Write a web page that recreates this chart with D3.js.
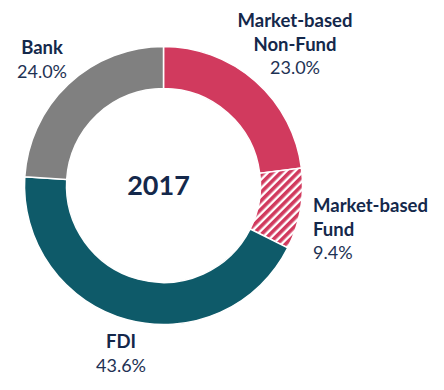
<!DOCTYPE html>
<html><head><meta charset="utf-8">
<script src="https://cdn.jsdelivr.net/npm/d3@7"></script>
<style>html,body{margin:0;padding:0;background:#fff;}svg{display:block;}</style>
</head><body>
<svg id="chart" width="444" height="390"></svg>
<script>
const categories = ["Market-based Non-Fund", "Market-based Fund", "FDI", "Bank"];
const values = [23.0, 9.4, 43.6, 24.0];
const valueLabels = ["23.0%", "9.4%", "43.6%", "24.0%"];
const nameLines = [["Market-based", "Non-Fund"], ["Market-based", "Fund"], ["FDI"], ["Bank"]];
const title = "2017";

const svg = d3.select("#chart");
const cx = 163.5, cy = 185.5, rOuter = 139, rInner = 97;
const defs = svg.append("defs");
const pat = defs.append("pattern").attr("id", "hatch").attr("patternUnits", "userSpaceOnUse")
  .attr("width", 6).attr("height", 6).attr("patternTransform", "rotate(45)");
pat.append("rect").attr("width", 6).attr("height", 6).attr("fill", "#fff");
pat.append("rect").attr("width", 3.6).attr("height", 6).attr("fill", "#D13A5E");

const fills = ["#D13A5E", "url(#hatch)", "#0E5A69", "#808080"];
const pie = d3.pie().sort(null).value(d => d)(values);
const arc = d3.arc().innerRadius(rInner).outerRadius(rOuter);
const g = svg.append("g").attr("transform", `translate(${cx},${cy})`);
g.selectAll("path").data(pie).join("path")
  .attr("d", arc).attr("fill", (d, i) => fills[i])
  .attr("stroke", "#fff").attr("stroke-width", 1.5);

g.append("text").attr("x", -5).attr("y", 9).attr("text-anchor", "middle")
  .attr("font-family", "Lato, 'Open Sans', sans-serif").attr("font-weight", "bold")
  .attr("font-size", 27).attr("fill", "#14284B").text(title);

const labelPos = [
  {x: 295, y: 27, anchor: "middle"},
  {x: 313, y: 212, anchor: "start"},
  {x: 121, y: 348, anchor: "middle"},
  {x: 42, y: 54, anchor: "middle"}
];
const lh = 23.5;
categories.forEach((c, i) => {
  const p = labelPos[i];
  const t = svg.append("text").attr("text-anchor", p.anchor)
    .attr("font-family", "Lato, 'Open Sans', sans-serif").attr("font-size", 18);
  nameLines[i].forEach((ln, j) => {
    t.append("tspan").attr("x", p.x).attr("y", p.y + j * lh)
      .attr("font-weight", "bold").attr("font-size", 18.5).attr("fill", "#14284B").text(ln);
  });
  t.append("tspan").attr("x", p.x).attr("y", p.y + nameLines[i].length * lh)
    .attr("fill", "#1E3254").text(valueLabels[i]);
});
</script>
</body></html>
